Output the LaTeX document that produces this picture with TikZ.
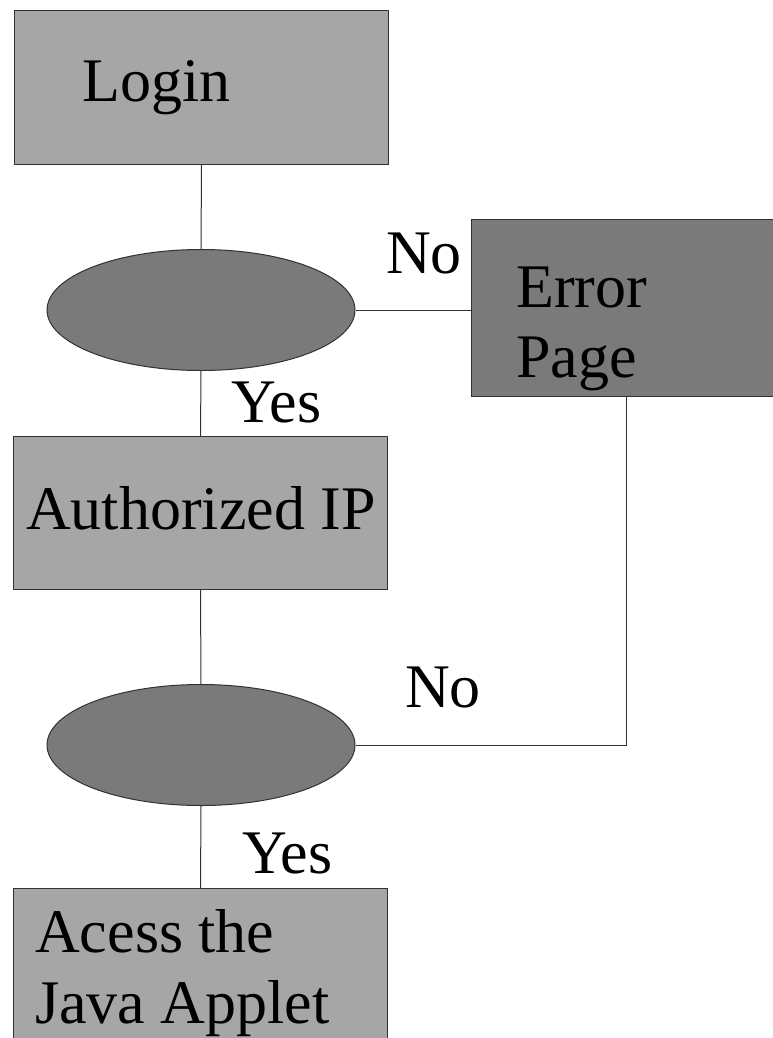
\documentclass[tikz,border=0pt]{standalone}
\usepackage{fontspec}
\setmainfont{Liberation Serif}
\usetikzlibrary{shapes.geometric}
\definecolor{boxlight}{RGB}{166,166,166}
\definecolor{boxdark}{RGB}{122,122,122}
\definecolor{edgegray}{RGB}{50,50,50}
\begin{document}
\begin{tikzpicture}[x=1pt,y=-1pt,
  stepbox/.style={rectangle, draw=edgegray, line width=1pt, fill=boxlight,
    anchor=north west, inner sep=0pt},
  errbox/.style={stepbox, fill=boxdark},
  decision/.style={ellipse, draw=edgegray, line width=1pt, fill=boxdark,
    minimum width=308pt, minimum height=121pt, inner sep=0pt},
  conn/.style={draw=edgegray, line width=1pt},
  lbl/.style={anchor=base west, inner sep=0pt, font=\rmfamily\fontsize{62}{70}\selectfont, text=black}]
  \useasboundingbox[fill=white] (0,0) rectangle (772,1038);

  % boxes and decisions
  \node[stepbox, minimum width=374pt, minimum height=154pt] (login) at (14,10) {};
  \node[decision] (check1) at (201,310) {};
  \node[errbox, minimum width=310pt, minimum height=177pt] (error) at (471,219) {};
  \node[stepbox, minimum width=374pt, minimum height=153pt] (auth) at (13,436) {};
  \node[decision] (check2) at (201,745) {};
  \node[stepbox, minimum width=374pt, minimum height=160pt] (access) at (13,888) {};

  % connectors
  \draw[conn] (login.south) -- (check1.north);
  \draw[conn] (check1.east) -- (check1.east -| error.west);
  \draw[conn] (check1.south) -- (auth.north);
  \draw[conn] (auth.south) -- (check2.north);
  \draw[conn] (check2.south) -- (access.north);
  \draw[conn] (error.south) |- (check2.east);

  % texts
  \node[lbl] (t-login) at (82,102) {Login};
  \node[lbl] (t-no1) at (386,273) {No};
  \node[lbl] (t-err1) at (516,307) {Error};
  \node[lbl] (t-err2) at (516,377) {Page};
  \node[lbl] (t-yes1) at (231,422) {Yes};
  \node[lbl] (t-auth) at (26,529) {Authorized IP};
  \node[lbl] (t-no2) at (405,707) {No};
  \node[lbl] (t-yes2) at (242,873) {Yes};
  \node[lbl] (t-acc1) at (35,952) {Acess the};
  \node[lbl] (t-acc2) at (35,1023) {Java Applet};
\end{tikzpicture}
\end{document}
